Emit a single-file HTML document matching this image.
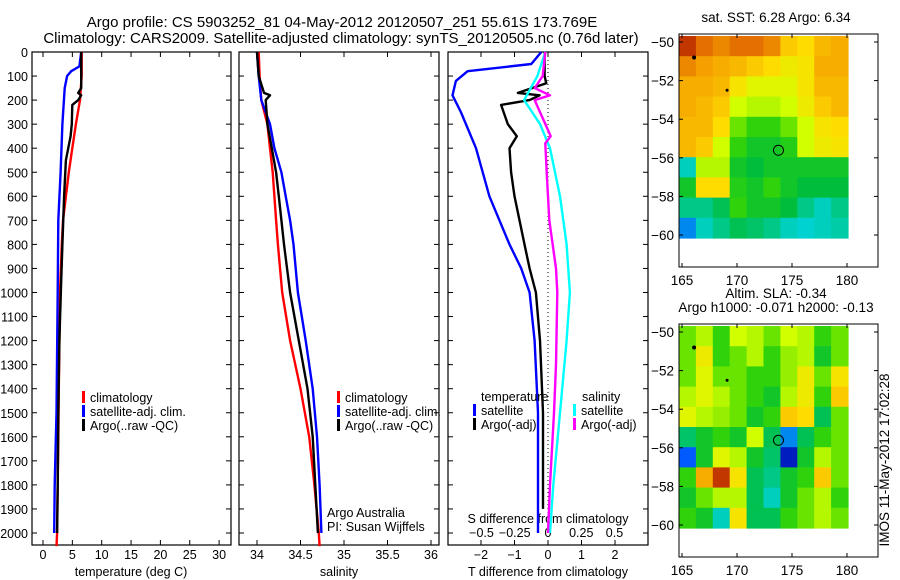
<!DOCTYPE html>
<html><head><meta charset="utf-8">
<style>
body{margin:0;background:#fff;}
svg{display:block;font-family:"Liberation Sans",sans-serif;}
text{font-size:12.5px;fill:#000;}
.big{font-size:15px;}
.mt{font-size:13.5px;}
</style></head>
<body>
<svg id="fig" width="900" height="580" viewBox="0 0 900 580" xmlns="http://www.w3.org/2000/svg">
<rect width="900" height="580" fill="#fff"/>
<text class="big" x="342" y="27" text-anchor="middle">Argo profile: CS 5903252_81 04-May-2012 20120507_251 55.61S 173.769E</text>
<text class="big" x="341" y="43" text-anchor="middle">Climatology: CARS2009. Satellite-adjusted climatology: synTS_20120505.nc (0.76d later)</text>
<g id="p1"></g>
<g id="p2"></g>
<g id="p3"></g>
<g id="m1"></g>
<g id="m2"></g>
<text class="mt" transform="translate(889,460) rotate(-90)" text-anchor="middle">IMOS 11-May-2012 17:02:28</text>
</svg>
<script>
// ---- data ----
const depthTicks=[0,100,200,300,400,500,600,700,800,900,1000,1100,1200,1300,1400,1500,1600,1700,1800,1900,2000];
const tempTicks=[0,5,10,15,20,25,30];
const salTicks=[34,34.5,35,35.5,36];
const tdiffTicks=[-2,-1,0,1,2];
const sdiffTicks=[-0.5,-0.25,0,0.25,0.5];
const lonTicks=[165,170,175,180];
const latTicks=[-50,-52,-54,-56,-58,-60];

const climDepth=[0,100,200,300,400,500,600,700,800,1000,1200,1400,1600,1800,2000,2055];
const climTemp=[6.6,6.6,6.3,5.6,5.0,4.4,3.9,3.4,3.2,2.9,2.8,2.7,2.6,2.5,2.4,2.3];
const climSal=[34.02,34.03,34.05,34.12,34.15,34.18,34.2,34.22,34.24,34.29,34.38,34.5,34.6,34.66,34.71,34.72];

const satDepth=[0,60,80,100,150,300,500,700,1000,1500,1800,2000];
const satTemp=[6.5,6.2,4.8,4.1,3.7,3.3,3.0,2.6,2.5,2.3,2.0,1.9];
const satSalDepth=[0,100,200,300,400,500,600,700,800,1000,1200,1400,1600,1800,2000];
const satSal=[34.0,34.02,34.05,34.15,34.2,34.28,34.33,34.38,34.42,34.47,34.56,34.64,34.69,34.72,34.74];

const argoDepth=[0,150,170,180,200,220,300,350,450,600,800,950,1200,1500,1800,2000];
const argoTemp=[6.5,6.5,6.0,6.5,6.0,5.0,4.9,4.7,3.9,3.6,3.3,3.1,2.8,2.6,2.5,2.4];
const argoSalDepth=[0,100,170,180,200,300,400,500,600,700,800,1000,1200,1400,1600,1800,2000];
const argoSal=[34.0,34.02,34.08,34.15,34.1,34.12,34.17,34.22,34.25,34.28,34.31,34.38,34.48,34.58,34.64,34.67,34.7];

const tSatDiffDepth=[0,50,80,120,180,250,400,600,800,900,1000,1200,1500,2000];
const tSatDiff=[-0.2,-0.5,-2.4,-2.75,-2.85,-2.6,-2.15,-1.75,-1.15,-0.8,-0.55,-0.4,-0.3,-0.3];
const tArgoDiffDepth=[0,100,130,170,180,200,220,300,350,400,500,600,700,800,900,1000,1200,1500,1900];
const tArgoDiff=[-0.1,-0.1,-0.05,-0.9,-0.25,-0.55,-1.4,-1.2,-0.93,-1.15,-1.1,-1.0,-0.85,-0.7,-0.55,-0.36,-0.24,-0.15,-0.15];
const sSatDiffDepth=[0,100,200,300,400,600,800,1000,1200,1500,1800,2000];
const sSatDiff=[-0.02,-0.08,-0.18,-0.06,0.015,0.09,0.14,0.165,0.14,0.09,0.04,0.015];
const sArgoDiffDepth=[0,100,150,180,200,250,350,380,500,700,900,1000,1300,1500,1800,2000];
const sArgoDiff=[-0.02,-0.04,-0.1,0.015,-0.1,-0.06,0.02,-0.02,-0.01,0.01,0.06,0.07,0.06,0.045,0.015,0.0];

const sstGrid=[
[0.95,0.88,0.85,0.88,0.88,0.85,0.75,0.72,0.78,0.8],
[0.85,0.82,0.8,0.78,0.75,0.72,0.68,0.7,0.8,0.8],
[0.8,0.8,0.78,0.7,0.65,0.65,0.65,0.7,0.78,0.78],
[0.8,0.78,0.75,0.62,0.6,0.6,0.62,0.68,0.75,0.78],
[0.78,0.78,0.72,0.55,0.5,0.5,0.55,0.62,0.7,0.72],
[0.78,0.75,0.62,0.5,0.45,0.45,0.48,0.62,0.68,0.7],
[0.3,0.6,0.6,0.45,0.42,0.45,0.45,0.45,0.45,0.45],
[0.45,0.72,0.72,0.48,0.45,0.5,0.45,0.42,0.42,0.42],
[0.35,0.35,0.4,0.5,0.45,0.45,0.42,0.35,0.3,0.35],
[0.2,0.3,0.35,0.4,0.38,0.35,0.3,0.28,0.3,0.32]];
const slaGrid=[
[0.55,0.6,0.5,0.62,0.6,0.55,0.62,0.6,0.5,0.55],
[0.55,0.68,0.5,0.55,0.6,0.5,0.58,0.6,0.45,0.55],
[0.55,0.65,0.55,0.55,0.5,0.5,0.58,0.68,0.55,0.7],
[0.6,0.65,0.6,0.55,0.5,0.45,0.6,0.68,0.5,0.75],
[0.65,0.6,0.58,0.55,0.45,0.5,0.75,0.72,0.4,0.55],
[0.38,0.45,0.5,0.45,0.62,0.4,0.2,0.4,0.5,0.55],
[0.15,0.45,0.65,0.6,0.45,0.38,0.05,0.45,0.6,0.55],
[0.5,0.8,0.95,0.7,0.4,0.35,0.45,0.5,0.75,0.55],
[0.45,0.55,0.6,0.6,0.4,0.3,0.45,0.55,0.6,0.5],
[0.5,0.45,0.3,0.7,0.4,0.4,0.5,0.55,0.6,0.55]];
const floatLon=173.77, floatLat=-55.61;

// ---- helpers ----
const NS="http://www.w3.org/2000/svg";
function mk(parent,tag,attrs){const e=document.createElementNS(NS,tag);for(const k in attrs)e.setAttribute(k,attrs[k]);parent.appendChild(e);return e;}
function txt(parent,x,y,s,anchor){const t=mk(parent,'text',{x:x,y:y,'text-anchor':anchor||'start'});t.textContent=s;return t;}
const TOP=52,BOT=545;
const yD=d=>TOP+d*0.2405;

function frame(g,x0,x1,name){
  const r=mk(g,'rect',{x:x0,y:TOP,width:x1-x0,height:BOT-TOP,fill:'none',stroke:'#000','stroke-width':1.2});
  
  
}
function depthTicksDraw(g,x0,x1,labels){
  depthTicks.forEach(d=>{const y=yD(d);
    mk(g,'line',{x1:x0,y1:y,x2:x0+5,y2:y,stroke:'#000'});
    mk(g,'line',{x1:x1,y1:y,x2:x1-5,y2:y,stroke:'#000'});
    if(labels){const t=txt(g,x0-4,y+5,String(d),'end');
      
      }
  });
}
function xTicks(g,vals,fx,labelY,fmt){
  vals.forEach(v=>{const x=fx(v);
    mk(g,'line',{x1:x,y1:BOT,x2:x,y2:BOT-5,stroke:'#000'});
    mk(g,'line',{x1:x,y1:TOP,x2:x,y2:TOP+5,stroke:'#000'});
    const t=txt(g,x,labelY,fmt?fmt(v):String(v).replace('-','\u2212'),'middle');
    
    
  });
}
function profile(g,vals,depths,fx,color,name){
  const pts=vals.map((v,i)=>fx(v).toFixed(1)+','+yD(depths[i]).toFixed(1));
  const p=mk(g,'polyline',{points:pts.join(' '),fill:'none',stroke:color,'stroke-width':2.4,'stroke-linejoin':'round'});
  
  
}
function legendEntry(g,x,y,color,label){
  const r=mk(g,'rect',{x:x,y:y-11,width:3,height:12,fill:color});
  
  
  const t=txt(g,x+8,y,label);
  
  
}

// ---- panel 1: temperature ----
const p1=document.getElementById('p1');
const xT=v=>43+v*5.87;
frame(p1,32,231,'temperature');
depthTicksDraw(p1,32,231,true);
xTicks(p1,tempTicks,xT,559);
txt(p1,131,576,'temperature (deg C)','middle');
profile(p1,climTemp,climDepth,xT,'#f00','temp-climatology-line');
profile(p1,satTemp,satDepth,xT,'#00f','temp-satellite-line');
profile(p1,argoTemp,argoDepth,xT,'#000','temp-argo-line');
legendEntry(p1,82,402,'#f00','climatology');
legendEntry(p1,82,416,'#00f','satellite-adj. clim.');
legendEntry(p1,82,430,'#000','Argo(..raw -QC)');

// ---- panel 2: salinity ----
const p2=document.getElementById('p2');
const xS=v=>257+(v-34)*87;
frame(p2,239,439,'salinity');
depthTicksDraw(p2,239,439,false);
xTicks(p2,salTicks,xS,559);
txt(p2,339,576,'salinity','middle');
profile(p2,climSal,climDepth,xS,'#f00','sal-climatology-line');
profile(p2,satSal,satSalDepth,xS,'#00f','sal-satellite-line');
profile(p2,argoSal,argoSalDepth,xS,'#000','sal-argo-line');
legendEntry(p2,337,402,'#f00','climatology');
legendEntry(p2,337,416,'#00f','satellite-adj. clim.');
legendEntry(p2,337,430,'#000','Argo(..raw -QC)');
txt(p2,327,517,'Argo Australia');
txt(p2,327,531,'PI: Susan Wijffels');

// ---- panel 3: differences ----
const p3=document.getElementById('p3');
const xTd=v=>548+v*33.5;
const xSd=v=>548+v*133;
frame(p3,448,648,'difference');
depthTicksDraw(p3,448,648,false);
xTicks(p3,tdiffTicks,xTd,559);
sdiffTicks.forEach(v=>{const t=txt(p3,xSd(v),537,v===0?'0':String(v).replace('-','\u2212'),'middle');
  
  });
txt(p3,548,523,'S difference from climatology','middle');
txt(p3,548,576,'T difference from climatology','middle');
mk(p3,'line',{x1:548,y1:TOP,x2:548,y2:BOT,stroke:'#000','stroke-dasharray':'1,3'});
profile(p3,tSatDiff,tSatDiffDepth,xTd,'#00f','tdiff-satellite-line');
profile(p3,tArgoDiff,tArgoDiffDepth,xTd,'#000','tdiff-argo-line');
profile(p3,sSatDiff,sSatDiffDepth,xSd,'#0ff','sdiff-satellite-line');
profile(p3,sArgoDiff,sArgoDiffDepth,xSd,'#f0f','sdiff-argo-line');
txt(p3,481,401,'temperature');
legendEntry(p3,473,415,'#00f','satellite');
legendEntry(p3,473,429,'#000','Argo(-adj)');
txt(p3,582,401,'salinity');
legendEntry(p3,573,415,'#0ff','satellite');
legendEntry(p3,573,429,'#f0f','Argo(-adj)');

// ---- maps ----
function cmap(v){
  const stops=[[0,[0,0,160]],[0.15,[0,90,255]],[0.28,[0,210,210]],[0.42,[0,190,60]],[0.52,[60,215,0]],[0.62,[210,255,0]],[0.72,[255,220,0]],[0.82,[245,160,0]],[0.92,[215,80,0]],[1,[160,10,0]]];
  for(let i=0;i<stops.length-1;i++){const a=stops[i],b=stops[i+1];
    if(v<=b[0]){const f=(v-a[0])/(b[0]-a[0]);
      return 'rgb('+a[1].map((c,j)=>Math.round(c+f*(b[1][j]-c))).join(',')+')';}}
  return 'rgb(160,10,0)';
}
function drawMap(g,top,grid,name,titles){
  const bx0=679,bx1=878,by0=top,by1=top+233;
  const lx=v=>682+(v-165)*11;
  const ly=v=>top+8+(-50-v)*19.3;
  const dx0=679,dx1=848,dy0=top+2,dy1=top+204;
  const nr=grid.length,nc=grid[0].length;
  const cw=(dx1-dx0)/nc,ch=(dy1-dy0)/nr;
  for(let r=0;r<nr;r++)for(let c=0;c<nc;c++){
    const cell=mk(g,'rect',{x:(dx0+c*cw).toFixed(1),y:(dy0+r*ch).toFixed(1),width:(cw+0.6).toFixed(1),height:(ch+0.6).toFixed(1),fill:cmap(grid[r][c])});
    
    
  }
  const fr=mk(g,'rect',{x:bx0,y:by0,width:bx1-bx0,height:by1-by0,fill:'none',stroke:'#000'});
  
  
  lonTicks.forEach(v=>{const x=lx(v);
    mk(g,'line',{x1:x,y1:by1,x2:x,y2:by1-4,stroke:'#000'});
    mk(g,'line',{x1:x,y1:by0,x2:x,y2:by0+4,stroke:'#000'});
    const t=txt(g,x,by1+18,String(v),'middle');
    t.setAttribute('class','mt');
    
    });
  latTicks.forEach(v=>{const y=ly(v);
    mk(g,'line',{x1:bx0,y1:y,x2:bx0+4,y2:y,stroke:'#000'});
    mk(g,'line',{x1:bx1,y1:y,x2:bx1-4,y2:y,stroke:'#000'});
    const t=txt(g,bx0-5,y+5,String(v).replace('-','\u2212'),'end');
    t.setAttribute('class','mt');
    
    });
  const c=mk(g,'circle',{cx:lx(floatLon),cy:ly(floatLat),r:5,fill:'none',stroke:'#000'});
  
  
  mk(g,'circle',{cx:lx(166.1),cy:ly(-50.8),r:2,fill:'#000'});
  mk(g,'circle',{cx:lx(169.1),cy:ly(-52.5),r:1.5,fill:'#000'});
  titles.forEach((s,i)=>{const t=txt(g,776,top-26+14*i+(titles.length===1?14:0),s,'middle');
    t.setAttribute('class','mt');
    
    });
}
drawMap(document.getElementById('m1'),34,sstGrid,'sst-map',['sat. SST: 6.28 Argo: 6.34']);
drawMap(document.getElementById('m2'),324,slaGrid,'sla-map',['Altim. SLA: -0.34','Argo h1000: -0.071 h2000: -0.13']);
</script>
</body></html>
